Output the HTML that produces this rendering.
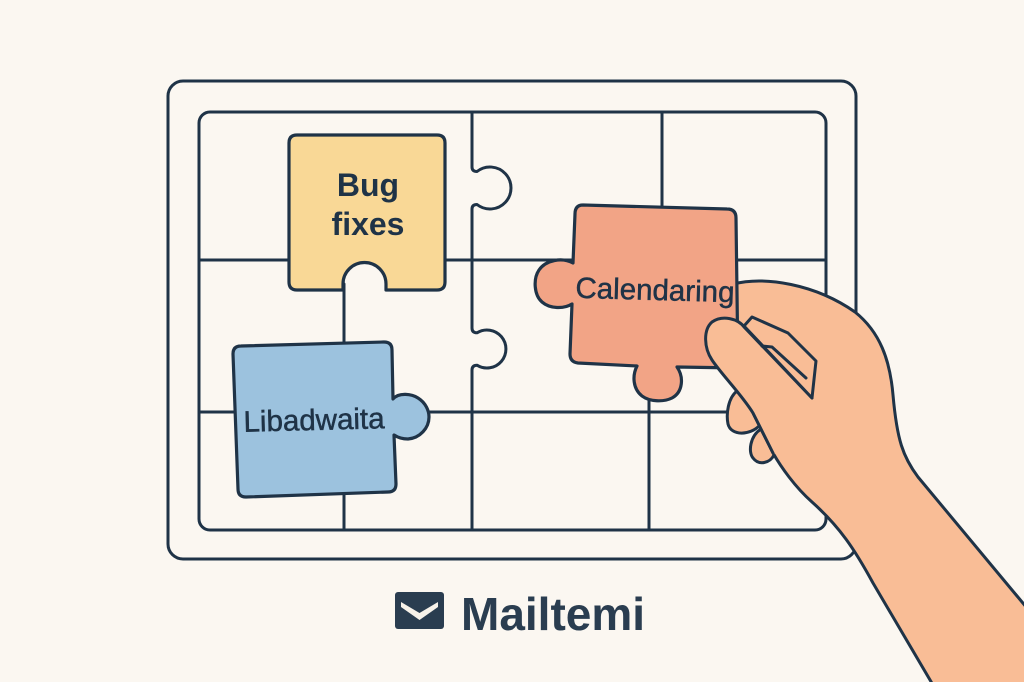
<!DOCTYPE html>
<html>
<head>
<meta charset="utf-8">
<style>
  html, body { margin:0; padding:0; background:#FBF7F1; }
  svg { display:block; }
  text { font-family: "Liberation Sans", "DejaVu Sans", sans-serif; fill:#1F3347; }
</style>
</head>
<body>
<svg width="1024" height="682" viewBox="0 0 1024 682" xmlns="http://www.w3.org/2000/svg">
  <rect x="0" y="0" width="1024" height="682" fill="#FBF7F1"/>

  <g fill="none" stroke="#1F3347" stroke-width="3" stroke-linejoin="round" stroke-linecap="round">
    <!-- outer frame -->
    <rect x="168" y="81" width="688" height="478" rx="15" ry="15"/>
    <!-- inner frame -->
    <rect x="199" y="112" width="627" height="418" rx="11" ry="11"/>
    <!-- horizontal grid lines -->
    <line x1="199" y1="260" x2="826" y2="260"/>
    <line x1="199" y1="412" x2="760" y2="412"/>
    <!-- vertical x=472 with two knobs -->
    <path d="M 472 112 L 472 167 Q 472 171.5 477 171.5 A 21 21 0 1 1 477 204.5 Q 472 204.5 472 209 L 472 328 Q 472 332.8 477 332.8 A 19 19 0 1 1 477 365.2 Q 472 365.2 472 370 L 472 530"/>
    <!-- vertical x=344 -->
    <line x1="344" y1="284" x2="344" y2="530"/>
    <!-- vertical x=662 top row -->
    <line x1="662" y1="112" x2="662" y2="260"/>
    <!-- vertical x=649 bottom row -->
    <line x1="649" y1="380" x2="649" y2="530"/>
  </g>

  <!-- Bug fixes piece -->
  <path d="M 297 135 L 437 135 Q 445 135 445 143 L 445 282 Q 445 290 437 290 L 386 290 L 386 284 A 21.5 21.5 0 0 0 343 284 L 343 290 L 297 290 Q 289 290 289 282 L 289 143 Q 289 135 297 135 Z"
        fill="#F9D896" stroke="#1F3347" stroke-width="3.2" stroke-linejoin="round"/>
  <text x="368" y="196" font-size="32" font-weight="700" text-anchor="middle">Bug</text>
  <text x="368" y="235" font-size="32" font-weight="700" text-anchor="middle">fixes</text>

  <!-- Libadwaita piece -->
  <path d="M 241 346 L 384 342 Q 392 342 392 350 L 393 399 C 399 392 412 394 418 398 C 426 403 429 411 429 417 C 429 428 420 438 408 439 C 402 439 397 437 394 435 L 396 484 Q 396 492 388 492 L 246 497 Q 238 497 238 489 L 233 354 Q 233 346 241 346 Z"
        fill="#9CC2DE" stroke="#1F3347" stroke-width="3.2" stroke-linejoin="round"/>
  <text x="314" y="430" font-size="29.5" text-anchor="middle" stroke="#1F3347" stroke-width="0.5" transform="rotate(-1.4 314 420)">Libadwaita</text>

  <!-- fingers (behind hand) -->
  <path d="M 737 391 C 728 398 726 414 728 424 C 731 436 750 436 760 425 L 778 420 L 762 385 Z"
        fill="#F9BD96" stroke="#1F3347" stroke-width="3" stroke-linejoin="round"/>
  <path d="M 761 429 C 750 436 748 452 753 458 C 759 466 770 463 774 455 L 792 450 L 777 425 Z"
        fill="#F9BD96" stroke="#1F3347" stroke-width="3" stroke-linejoin="round"/>

  <!-- hand / arm fill -->
  <path d="M 733 284 C 765 276 815 284 855 312 C 880 332 890 360 893 395 C 897 440 903 457 918 477 L 1027 608 L 1027 685 L 933 685 L 873 583 C 855 550 840 527 812 502 C 795 487 781 467 773 453 L 753 413 C 742 395 722 375 712 360 L 725 330 Z"
        fill="#F9BD96" stroke="none"/>
  <!-- hand outlines -->
  <path d="M 733 284 C 765 276 815 284 855 312 C 880 332 890 360 893 395 C 897 440 903 457 918 477 L 1027 608"
        fill="none" stroke="#1F3347" stroke-width="3" stroke-linejoin="round" stroke-linecap="round"/>
  <path d="M 933 685 L 873 583 C 855 550 840 527 812 502 C 795 487 781 467 773 453 L 753 413"
        fill="none" stroke="#1F3347" stroke-width="3" stroke-linejoin="round" stroke-linecap="round"/>

  <!-- Calendaring piece -->
  <path d="M 583 205 L 727 209 Q 736 209 736 218 L 738 368 L 677 367 C 684 377 683 392 672 398 C 664 402 650 402 642 396 C 633 389 632 376 637 366 L 578 363 Q 570 362 570 354 L 572 304 C 564 309 550 309 542 302 C 534 295 533 279 539 270 C 546 260 562 257 573 263 L 575 214 Q 575 205 583 205 Z"
        fill="#F2A486" stroke="#1F3347" stroke-width="3.2" stroke-linejoin="round"/>
  <text x="655" y="300" font-size="29.5" text-anchor="middle" stroke="#1F3347" stroke-width="0.5" transform="rotate(1.6 655 290)">Calendaring</text>

  <!-- thumb overlay -->
  <path d="M 812 398 L 745 328 C 738 318 722 315 712 322 C 703 330 704 348 712 360 C 722 375 742 395 753 413 L 773 453 L 830 470 Z"
        fill="#F9BD96" stroke="none"/>
  <path d="M 812 398 L 745 328 C 738 318 722 315 712 322 C 703 330 704 348 712 360 C 722 375 742 395 753 413 L 773 453"
        fill="none" stroke="#1F3347" stroke-width="3" stroke-linejoin="round" stroke-linecap="round"/>
  <!-- thumbnail -->
  <path d="M 744 326 L 752 317 L 788 333 L 816 361 L 812 398 Z"
        fill="#F9BD96" stroke="#1F3347" stroke-width="3" stroke-linejoin="round"/>
  <polyline points="762,346 772,347 806,378" fill="none" stroke="#1F3347" stroke-width="3" stroke-linejoin="round" stroke-linecap="round"/>

  <!-- logo -->
  <rect x="395" y="592" width="49" height="37" rx="3" ry="3" fill="#2A3D50"/>
  <path d="M 401 602 L 419.5 613 L 438 602 L 438 607 L 419.5 620 L 401 607 Z" fill="#F7F2EA"/>
  <text x="461" y="630" font-size="46" font-weight="700" style="fill:#2A3D50">Mailtemi</text>
</svg>
</body>
</html>
